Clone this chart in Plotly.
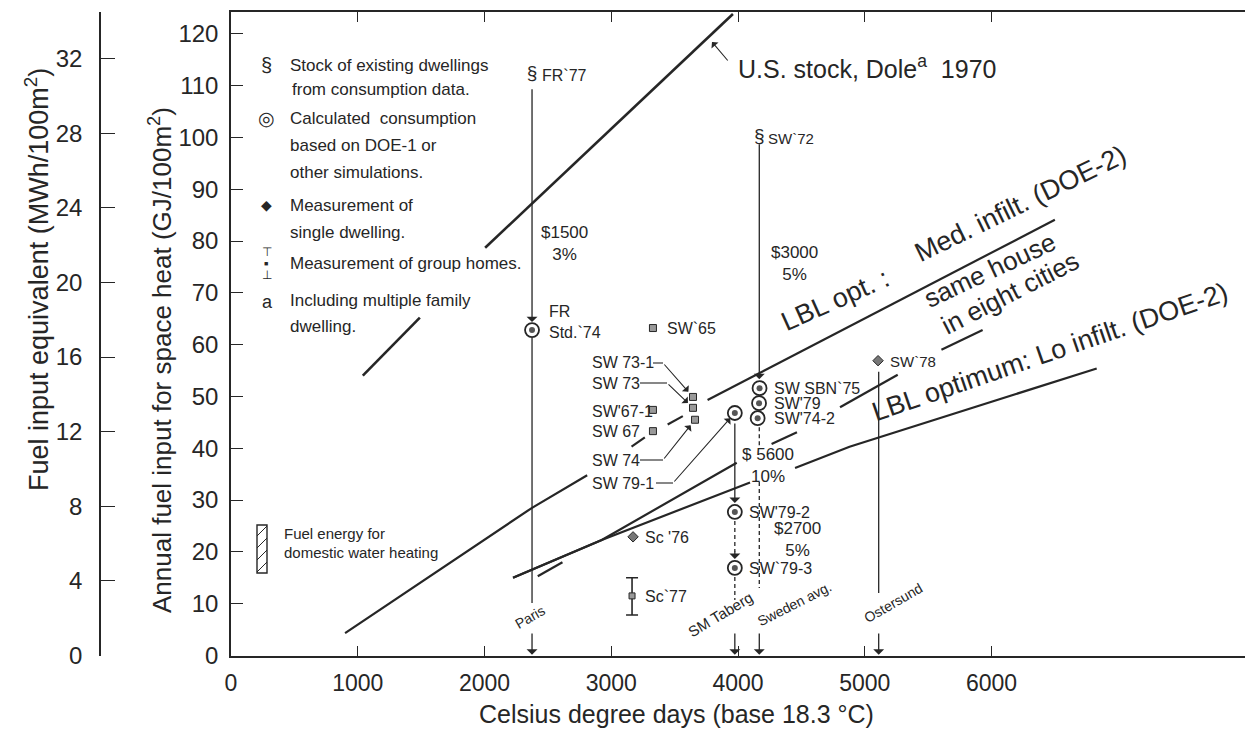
import plotly.graph_objects as go

# ---------------- data ----------------
x_tick_vals = [0, 1000, 2000, 3000, 4000, 5000, 6000]
gj_tick_vals = [0, 10, 20, 30, 40, 50, 60, 70, 80, 90, 100, 110, 120]
mwh_tick_vals = [0, 4, 8, 12, 16, 20, 24, 28, 32]

city_names = ["Paris", "SM Taberg", "Sweden avg.", "Ostersund"]
city_dd = [2375, 3975, 4168, 5110]

stock_names = ["FR`77", "SW`72"]
stock_dd = [2375, 4168]
stock_gj = [112.1, 100.1]

calc_names = ["FR Std.`74", "SW 79-1", "SW SBN`75", "SW'79", "SW'74-2", "SW'79-2", "SW`79-3"]
calc_dd = [2375, 3975, 4170, 4166, 4155, 3975, 3975]
calc_gj = [62.8, 46.8, 51.6, 48.7, 45.8, 27.7, 16.9]

single_names = ["SW`78", "Sc '76"]
single_dd = [5105, 3172]
single_gj = [56.9, 22.9]

group_names = ["SW`65", "SW 73-1", "SW 73", "SW 74", "SW'67-1", "SW 67"]
group_dd = [3329, 3645, 3645, 3661, 3329, 3329]
group_gj = [63.2, 49.9, 47.8, 45.5, 47.4, 43.3]

groupbar_names = ["Sc`77"]
groupbar_dd = [3164]
groupbar_gj = [11.5]
groupbar_hi = [15.0]
groupbar_lo = [7.8]

us_stock_dd = [1040, 1490, None, 2005, 3960]
us_stock_gj = [54.0, 65.2, None, 78.7, 123.8]

lbl_med_dd = [900, 2375, 2810, None, 3160, 3265, None, 3445, 3565, None, 3760, 6500]
lbl_med_gj = [4.3, 28.5, 34.8, None, 40.3, 42.1, None, 44.6, 46.2, None, 49.3, 84.1]

same_house_dd = [2225, 2925, 3990, None, 4265, 4465, None, 4805, 5260, None, 5605, 5930]
same_house_gj = [15.0, 22.3, 37.2, None, 40.8, 43.1, None, 47.9, 54.2, None, 59.0, 62.8]

lbl_lo_dd = [2225, 2925, 4095, None, 4450, 4880, 6830]
lbl_lo_gj = [15.0, 22.3, 33.4, None, 36.2, 40.3, 55.4]

short_dash_dd = [2420, 2615]
short_dash_gj = [15.3, 18.0]

cost_texts = ["$1500<br>3%", "$3000<br>5%", "$ 5600<br>10%", "$2700<br>5%"]

# ---------------- geometry helpers ----------------
W, H = 1245, 742
L_PX, T_PX, B_PX = 231, 12, 656
X_MAX = 8000
Y_MIN, Y_MAX = -0.1, 124.2
GJ_PER_MWH = 3.6
INK = "#262626"
FONT = "Liberation Sans, Arial, sans-serif"


def px2x(px):
    return (px - L_PX) / (W - L_PX) * X_MAX


def py2y(py):
    return Y_MAX - (py - T_PX) / (B_PX - T_PX) * (Y_MAX - Y_MIN)


def PX(px):
    return px / W


def PY(py):
    return (B_PX - py) / (B_PX - T_PX)


fig = go.Figure()


def line(xs, ys, width=2.2, dash=None):
    fig.add_trace(go.Scatter(x=xs, y=ys, mode="lines", hoverinfo="skip",
                             line=dict(color=INK, width=width, dash=dash)))


# main curves
line(us_stock_dd, us_stock_gj, 2.6)
line(lbl_med_dd, lbl_med_gj, 2.2)
line(same_house_dd, same_house_gj, 2.2)
line(lbl_lo_dd, lbl_lo_gj, 2.2)
line(short_dash_dd, short_dash_gj, 2.2)

annotations = []


def arrow(x, y, ax, ay, standoff=0, width=1.3):
    annotations.append(dict(x=x, y=y, ax=ax, ay=ay, xref="x", yref="y", axref="x", ayref="y",
                            text="", showarrow=True, arrowhead=1, arrowsize=1.4,
                            arrowwidth=width, arrowcolor=INK, standoff=standoff))


pix = (Y_MAX - Y_MIN) / (B_PX - T_PX)  # GJ per pixel

# ---- vertical connectors ----
paris, taberg, sweden, oster = city_dd
# Paris / France
arrow(paris, calc_gj[0], paris, stock_gj[0] - 13 * pix, standoff=8)
line([paris, paris], [calc_gj[0] - 8 * pix, py2y(603)], 1.3)
# Sweden average
arrow(sweden, calc_gj[2], sweden, stock_gj[1] - 6 * pix, standoff=9)
line([sweden, sweden], [calc_gj[4] - 9 * pix, py2y(446)], 1.3, "4px,3px")
line([sweden, sweden], [py2y(482), py2y(588)], 1.3, "4px,3px")
# Taberg
arrow(taberg, calc_gj[5], taberg, calc_gj[1] - 9 * pix, standoff=9)
line([taberg, taberg], [calc_gj[5] - 9 * pix, calc_gj[6] + 16 * pix], 1.3, "4px,3px")
arrow(taberg, calc_gj[6], taberg, calc_gj[6] + 18 * pix, standoff=9)
line([taberg, taberg], [calc_gj[6] - 9 * pix, py2y(600)], 1.3, "4px,3px")
# Ostersund
line([oster, oster], [single_gj[0] - 11 * pix, py2y(593)], 1.3)
# arrows down onto the axis
for c in city_dd:
    arrow(c, 0.15, c, py2y(632), standoff=0)

# ---- markers ----
fig.add_trace(go.Scatter(x=stock_dd, y=stock_gj, mode="text", text=["§"] * len(stock_dd),
                         textfont=dict(family=FONT, size=19, color=INK), hoverinfo="skip"))
fig.add_trace(go.Scatter(x=calc_dd, y=calc_gj, mode="markers", hoverinfo="skip",
                         marker=dict(symbol="circle-open", size=14, color=INK, line=dict(width=1.8, color=INK))))
fig.add_trace(go.Scatter(x=calc_dd, y=calc_gj, mode="markers", hoverinfo="skip",
                         marker=dict(symbol="circle", size=6, color="#555555")))
fig.add_trace(go.Scatter(x=single_dd, y=single_gj, mode="markers", hoverinfo="skip",
                         marker=dict(symbol="diamond", size=8, color="#777777", line=dict(width=1, color=INK))))
fig.add_trace(go.Scatter(x=group_dd, y=group_gj, mode="markers", hoverinfo="skip",
                         marker=dict(symbol="square", size=7, color="#999999", line=dict(width=1, color=INK))))
fig.add_trace(go.Scatter(x=groupbar_dd, y=groupbar_gj, mode="markers", hoverinfo="skip",
                         marker=dict(symbol="square", size=6, color="#999999", line=dict(width=1, color=INK)),
                         error_y=dict(type="data", symmetric=False,
                                      array=[h - v for h, v in zip(groupbar_hi, groupbar_gj)],
                                      arrayminus=[v - l for v, l in zip(groupbar_gj, groupbar_lo)],
                                      width=6, thickness=1.6, color=INK)))
# trace carrying the secondary (MWh) axis
fig.add_trace(go.Scatter(x=[None], y=[None], yaxis="y2", hoverinfo="skip"))

# ---- leader lines for labels on the left of the cluster ----
leaders = [  # (label right end px, label y px, bend px, target)
    (650, 363, 663, group_dd[1], group_gj[1]),
    (637, 383, 667, group_dd[2], group_gj[2]),
    (637, 460, 663, group_dd[3], group_gj[3]),
    (653, 483, 673, calc_dd[1], calc_gj[1]),
]
for x0, y0, xb, tx, ty in leaders:
    line([px2x(x0 + 3), px2x(xb)], [py2y(y0), py2y(y0)], 1.1)
    arrow(tx, ty, px2x(xb), py2y(y0), standoff=7, width=1.1)

# US stock pointer
arrow(px2x(712), py2y(42), px2x(729), py2y(62), standoff=0, width=1.1)


def text(t, px, py, size=16, xanchor="left", angle=0, align="left", family=FONT):
    annotations.append(dict(x=PX(px), y=PY(py), xref="paper", yref="paper", text=t, showarrow=False,
                            xanchor=xanchor, yanchor="middle", textangle=angle, align=align,
                            font=dict(family=family, size=size, color=INK)))


# point labels
text(stock_names[0], 540, 76, 16)
text(stock_names[1], 766, 138, 15)
text("FR<br>Std.`74", 547, 322, 16)
text(group_names[0], 665, 328, 16)
text(group_names[1], 590, 363, 16)
text(group_names[2], 590, 383, 16)
text(group_names[4], 590, 411, 16)
text(group_names[5], 590, 431, 16)
text(group_names[3], 590, 460, 16)
text(calc_names[1], 590, 483, 16)
text(calc_names[2], 772, 388, 16)
text(calc_names[3], 772, 403, 16)
text(calc_names[4], 772, 418, 16)
text(calc_names[5], 747, 512, 16)
text(calc_names[6], 747, 568, 16)
text(single_names[0], 888, 361, 15)
text(single_names[1], 643, 537, 16)
text(groupbar_names[0], 643, 596, 16)

# investment labels
text(cost_texts[0], 564, 243, 17, "center", align="center")
text(cost_texts[1], 794, 263, 17, "center", align="center")
text(cost_texts[2], 768, 465, 17, "center", align="center")
text(cost_texts[3], 797, 539, 17, "center", align="center")

# city labels
text(city_names[0], 530, 617, 14, "center", -30)
text(city_names[1], 720, 614, 15, "center", -31)
text(city_names[2], 794, 604, 14, "center", -27)
text(city_names[3], 893, 603, 14, "center", -30)

# big curve captions
text("U.S. stock, Dole<sup>a</sup>  1970", 736, 67, 25)
text("LBL opt. :", 835, 300, 27, "center", -24)
text("Med. infilt. (DOE-2)", 1020, 204, 27, "center", -26)
text("same house", 990, 270, 26, "center", -25)
text("in eight cities", 1010, 293, 26, "center", -27)
text("LBL optimum: Lo infilt. (DOE-2)", 1050, 352, 27, "center", -19)

# key (upper left)
text("§", 259, 65, 20)
text("Stock of existing dwellings", 288, 65, 17)
text("from consumption data.", 290, 90, 17)
text("◎", 256, 118, 19)
text("Calculated  consumption", 288, 118, 17)
text("based on DOE-1 or", 288, 145, 17)
text("other simulations.", 288, 172, 17)
text("◆", 259, 205, 14)
text("Measurement of", 288, 205, 17)
text("single dwelling.", 288, 232, 17)
text("⊤", 260, 252, 12)
text("■", 262, 263, 7)
text("⊥", 260, 275, 12)
text("Measurement of group homes.", 288, 263, 17)
text("a", 260, 302, 18)
text("Including multiple family", 288, 300, 17)
text("dwelling.", 288, 327, 17)

# water heating key
text("Fuel energy for", 282, 533, 15)
text("domestic water heating", 282, 552, 15)
shapes = [dict(type="rect", xref="paper", yref="paper", x0=PX(257), x1=PX(267), y0=PY(573), y1=PY(525),
               line=dict(color=INK, width=1.4))]
for k in range(4):
    shapes.append(dict(type="line", xref="paper", yref="paper", x0=PX(257), x1=PX(267),
                       y0=PY(536 + 12 * k), y1=PY(526 + 12 * k), line=dict(color=INK, width=1)))

# axis titles
text("Celsius degree days (base 18.3 °C)", 676, 714, 25, "center")
text("Annual fuel input for space heat (GJ/100m<sup>2</sup>)", 160, 360, 26, "center", -90)
text("Fuel input equivalent (MWh/100m<sup>2</sup>)", 37, 280, 27, "center", -90)

tickfont = dict(family=FONT, size=24, color=INK)
fig.update_layout(
    width=W, height=H, margin=dict(l=0, r=0, t=T_PX, b=H - B_PX),
    paper_bgcolor="white", plot_bgcolor="white", showlegend=False,
    annotations=annotations, shapes=shapes,
    xaxis=dict(domain=[L_PX / W, 1], range=[0, X_MAX], tickvals=x_tick_vals,
               ticktext=[str(v) for v in x_tick_vals], ticks="inside", ticklen=10, tickwidth=1.2,
               tickcolor=INK, mirror="ticks", showline=True, linecolor=INK, linewidth=1.5,
               showgrid=False, zeroline=False, tickfont=dict(family=FONT, size=23, color=INK),
               ticklabelstandoff=6, automargin=False),
    yaxis=dict(range=[Y_MIN, Y_MAX], tickvals=gj_tick_vals, ticks="inside", ticklen=12, tickwidth=1.2,
               tickcolor=INK, showline=True, linecolor=INK, linewidth=1.5, showgrid=False,
               zeroline=False, tickfont=tickfont, anchor="x", automargin=False, ticklabelstandoff=6),
    yaxis2=dict(overlaying="y", anchor="free", position=100 / W, side="left",
                range=[Y_MIN / GJ_PER_MWH, Y_MAX / GJ_PER_MWH], tickvals=mwh_tick_vals,
                ticks="inside", ticklen=14, tickwidth=1.2, tickcolor=INK, showline=True,
                linecolor=INK, linewidth=1.5, showgrid=False, zeroline=False, tickfont=tickfont,
                automargin=False, ticklabelstandoff=12),
)

fig.write_html("out.html", config={"displayModeBar": False},
               post_script="document.body.style.margin='0px';")
